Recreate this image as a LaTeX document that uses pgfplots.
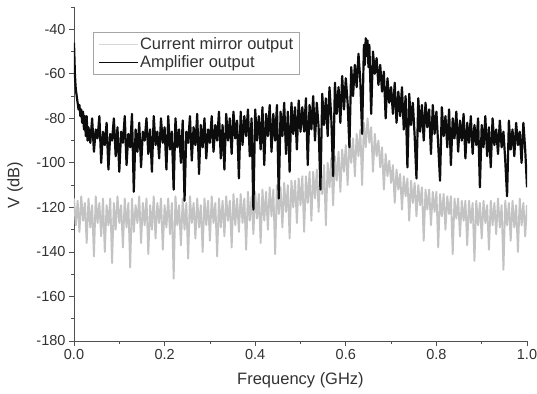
\documentclass[border=0pt]{standalone}
\usepackage{fontspec}
\setmainfont{Liberation Sans}
\usepackage{pgfplots}
\pgfplotsset{compat=1.18}
\usepackage{pgfplotstable}
\definecolor{txt}{RGB}{50,50,50}
\definecolor{axc}{RGB}{80,80,80}
\definecolor{mirror}{RGB}{195,195,195}
\definecolor{mirrorleg}{RGB}{215,215,215}
\definecolor{amp}{RGB}{12,12,12}

\pgfplotstableread{
f v
0.000 -116
0.004 -128
0.008 -117
0.012 -131
0.016 -115
0.020 -126
0.024 -118
0.028 -136
0.032 -116
0.036 -129
0.040 -119
0.044 -142
0.048 -115
0.052 -127
0.056 -118
0.060 -133
0.064 -116
0.068 -140
0.072 -119
0.076 -128
0.080 -116
0.084 -145
0.088 -118
0.092 -130
0.096 -115
0.100 -127
0.104 -119
0.108 -138
0.112 -116
0.116 -129
0.120 -118
0.124 -147
0.128 -116
0.132 -131
0.136 -119
0.140 -127
0.144 -115
0.148 -136
0.152 -118
0.156 -128
0.160 -116
0.164 -141
0.168 -119
0.172 -130
0.176 -115
0.180 -134
0.184 -118
0.188 -127
0.192 -116
0.196 -139
0.200 -119
0.204 -129
0.208 -116
0.212 -132
0.216 -118
0.220 -152
0.224 -115
0.228 -128
0.232 -119
0.236 -137
0.240 -116
0.244 -130
0.248 -118
0.252 -143
0.256 -115
0.260 -127
0.264 -118
0.268 -134
0.272 -116
0.276 -129
0.280 -119
0.284 -140
0.288 -116
0.292 -128
0.296 -117
0.300 -135
0.304 -115
0.308 -127
0.312 -118
0.316 -142
0.320 -116
0.324 -129
0.328 -117
0.332 -133
0.336 -115
0.340 -126
0.344 -117
0.348 -138
0.352 -114
0.356 -128
0.360 -116
0.364 -131
0.368 -114
0.372 -127
0.376 -116
0.380 -139
0.384 -113
0.388 -126
0.392 -115
0.396 -132
0.400 -113
0.404 -125
0.408 -114
0.412 -136
0.416 -112
0.420 -126
0.424 -113
0.428 -130
0.432 -111
0.436 -124
0.440 -112
0.444 -141
0.448 -110
0.452 -123
0.456 -111
0.460 -129
0.464 -109
0.468 -122
0.472 -110
0.476 -134
0.480 -108
0.484 -120
0.488 -108
0.492 -127
0.496 -107
0.500 -119
0.504 -106
0.508 -131
0.512 -106
0.516 -118
0.520 -104
0.524 -126
0.528 -104
0.532 -116
0.536 -103
0.540 -122
0.544 -102
0.548 -114
0.552 -101
0.556 -128
0.560 -100
0.564 -111
0.568 -98
0.572 -119
0.576 -97
0.580 -108
0.584 -95
0.588 -113
0.592 -94
0.596 -104
0.600 -92
0.604 -110
0.608 -90
0.612 -100
0.616 -89
0.620 -106
0.624 -87
0.628 -97
0.632 -85
0.636 -110
0.640 -82
0.644 -93
0.648 -80
0.652 -91
0.656 -84
0.660 -104
0.664 -87
0.668 -97
0.672 -90
0.676 -102
0.680 -93
0.684 -112
0.688 -96
0.692 -106
0.696 -99
0.700 -109
0.704 -101
0.708 -118
0.712 -103
0.716 -112
0.720 -105
0.724 -121
0.728 -106
0.732 -115
0.736 -107
0.740 -126
0.744 -108
0.748 -118
0.752 -109
0.756 -124
0.760 -110
0.764 -119
0.768 -111
0.772 -135
0.776 -112
0.780 -121
0.784 -112
0.788 -128
0.792 -113
0.796 -122
0.800 -113
0.804 -138
0.808 -114
0.812 -124
0.816 -114
0.820 -130
0.824 -115
0.828 -123
0.832 -115
0.836 -141
0.840 -116
0.844 -125
0.848 -116
0.852 -133
0.856 -117
0.860 -126
0.864 -117
0.868 -137
0.872 -117
0.876 -127
0.880 -118
0.884 -144
0.888 -117
0.892 -128
0.896 -118
0.900 -134
0.904 -117
0.908 -127
0.912 -119
0.916 -139
0.920 -117
0.924 -128
0.928 -118
0.932 -132
0.936 -116
0.940 -129
0.944 -119
0.948 -148
0.952 -117
0.956 -128
0.960 -118
0.964 -135
0.968 -117
0.972 -129
0.976 -119
0.980 -140
0.984 -116
0.988 -128
0.992 -118
0.996 -133
1.000 -119
}\mirrortable

\pgfplotstableread{
f v
0.000 -46
0.001 -53
0.002 -60
0.003 -64
0.004 -67
0.006 -70
0.008 -73
0.010 -76
0.012 -74
0.014 -79
0.016 -76
0.018 -82
0.020 -77
0.022 -85
0.024 -79
0.026 -88
0.028 -79
0.030 -90
0.032 -84
0.036 -91
0.040 -80
0.044 -95
0.048 -85
0.052 -89
0.056 -79
0.060 -100
0.064 -86
0.068 -92
0.072 -82
0.076 -103
0.080 -87
0.084 -90
0.088 -80
0.092 -97
0.096 -84
0.100 -104
0.104 -86
0.108 -91
0.112 -79
0.116 -101
0.120 -87
0.124 -93
0.128 -78
0.132 -113
0.136 -85
0.140 -95
0.144 -82
0.148 -102
0.152 -86
0.156 -90
0.160 -80
0.164 -96
0.168 -85
0.172 -104
0.176 -79
0.180 -92
0.184 -86
0.188 -98
0.192 -80
0.196 -91
0.200 -84
0.204 -103
0.208 -79
0.212 -94
0.216 -86
0.220 -112
0.224 -80
0.228 -93
0.232 -85
0.236 -100
0.240 -81
0.244 -117
0.248 -86
0.252 -91
0.256 -79
0.260 -99
0.264 -84
0.268 -92
0.272 -78
0.276 -105
0.280 -83
0.284 -93
0.288 -80
0.292 -98
0.296 -85
0.300 -91
0.304 -79
0.308 -95
0.312 -83
0.316 -90
0.320 -77
0.324 -98
0.328 -83
0.332 -103
0.336 -78
0.340 -90
0.344 -80
0.348 -96
0.352 -77
0.356 -89
0.360 -81
0.364 -107
0.368 -77
0.372 -92
0.376 -79
0.380 -88
0.384 -76
0.388 -97
0.392 -80
0.396 -121
0.400 -76
0.404 -90
0.408 -79
0.412 -94
0.416 -75
0.420 -101
0.424 -78
0.428 -88
0.432 -74
0.436 -95
0.440 -78
0.444 -90
0.448 -74
0.452 -116
0.456 -77
0.460 -88
0.464 -73
0.468 -96
0.472 -77
0.476 -104
0.480 -73
0.484 -87
0.488 -75
0.492 -94
0.496 -72
0.500 -86
0.504 -75
0.508 -86
0.512 -71
0.516 -101
0.520 -74
0.524 -85
0.528 -70
0.532 -90
0.536 -73
0.540 -84
0.544 -112
0.548 -69
0.552 -83
0.556 -71
0.560 -88
0.564 -66
0.568 -80
0.572 -106
0.576 -64
0.580 -78
0.584 -66
0.588 -82
0.592 -61
0.596 -76
0.600 -62
0.604 -73
0.608 -93
0.612 -57
0.616 -70
0.620 -56
0.624 -66
0.628 -51
0.632 -63
0.636 -87
0.640 -47
0.642 -56
0.644 -44
0.646 -52
0.648 -45
0.650 -57
0.652 -47
0.656 -78
0.660 -50
0.664 -60
0.668 -53
0.672 -65
0.676 -56
0.680 -68
0.684 -59
0.688 -80
0.692 -62
0.696 -73
0.700 -66
0.704 -78
0.708 -64
0.712 -82
0.716 -68
0.720 -79
0.724 -66
0.728 -85
0.732 -70
0.736 -102
0.740 -69
0.744 -83
0.748 -73
0.752 -88
0.756 -107
0.760 -71
0.764 -86
0.768 -74
0.772 -90
0.776 -73
0.780 -84
0.784 -76
0.788 -96
0.792 -74
0.796 -87
0.800 -77
0.804 -92
0.808 -108
0.812 -75
0.816 -88
0.820 -79
0.824 -93
0.828 -76
0.832 -101
0.836 -80
0.840 -89
0.844 -77
0.848 -95
0.852 -81
0.856 -90
0.860 -78
0.864 -98
0.868 -82
0.872 -91
0.876 -79
0.880 -96
0.884 -83
0.888 -92
0.892 -80
0.896 -111
0.900 -83
0.904 -93
0.908 -79
0.912 -97
0.916 -84
0.920 -102
0.924 -80
0.928 -92
0.932 -85
0.936 -96
0.940 -81
0.944 -93
0.948 -86
0.952 -99
0.956 -115
0.960 -81
0.964 -94
0.968 -85
0.972 -97
0.976 -82
0.980 -92
0.984 -86
0.988 -100
0.992 -82
0.996 -94
1.000 -111
}\amptable

\begin{document}
\begin{tikzpicture}
\useasboundingbox (-74bp,-53bp) rectangle (463bp,341bp);
\begin{axis}[
  scale only axis,
  width=453bp, height=334bp,
  xmin=0, xmax=1, ymin=-180, ymax=-30,
  axis x line*=bottom, axis y line*=left,
  axis line style={draw=axc, line width=0.9pt, -},
  every tick/.style={draw=axc, line width=0.8pt},
  xtick={0,0.2,0.4,0.6,0.8,1.0},
  minor xtick={0.1,0.3,0.5,0.7,0.9},
  ytick={-180,-160,-140,-120,-100,-80,-60,-40},
  minor ytick={-170,-150,-130,-110,-90,-70,-50,-30},
  tick align=outside,
  major tick length=5bp, minor tick length=3bp,
  /pgf/number format/assume math mode=true,
  xticklabel style={/pgf/number format/.cd, fixed, fixed zerofill, precision=1},
  tick label style={font=\fontsize{14.5bp}{17bp}\selectfont, text=txt},
  label style={font=\fontsize{16.5bp}{19bp}\selectfont, text=txt},
  xlabel={Frequency (GHz)},
  ylabel={V (dB)},
  xlabel style={at={(axis description cs:0.5,-0.117)}, anchor=center},
  ylabel style={at={(axis description cs:-0.130,0.467)}, anchor=center},
  legend style={at={(axis description cs:0.042,0.925)}, anchor=north west,
    draw=gray!70, line width=0.6pt, font=\fontsize{16.5bp}{19bp}\selectfont, text=txt,
    inner xsep=5bp, inner ysep=3.5bp, row sep=2bp,
    nodes={inner sep=1.5bp}},
  legend cell align=left,
  legend image code/.code={\draw[#1] (0bp,0bp) -- (39bp,0bp);},
]
\addplot[color=mirror, line width=1.9pt, line join=round, legend image post style={color=mirrorleg, line width=1pt}] table[x=f, y=v] {\mirrortable};
\addlegendentry{Current mirror output}
\addplot[color=amp, line width=2.2pt, line join=round, legend image post style={line width=1.2pt}] table[x=f, y=v] {\amptable};
\addlegendentry{Amplifier output}
\end{axis}
\end{tikzpicture}
\end{document}
